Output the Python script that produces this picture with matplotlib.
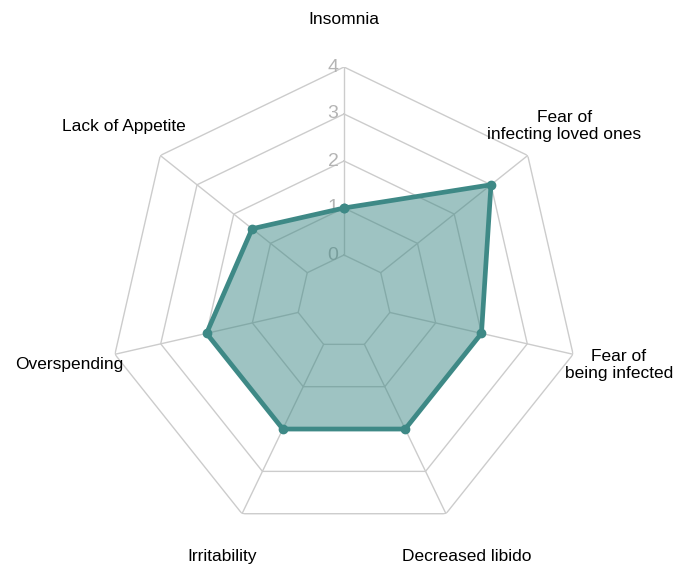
import matplotlib
matplotlib.use('Agg')
from matplotlib import pyplot as plt
import numpy as np

plt.rcParams['font.family'] = ['Liberation Sans', 'DejaVu Sans']

categories = [
    'Insomnia',
    'Fear of\ninfecting loved ones',
    'Fear of\nbeing infected',
    'Decreased libido',
    'Irritability',
    'Overspending',
    'Lack of Appetite',
]
values = [1, 3, 2, 2, 2, 2, 1.5]
ring_levels = [0, 1, 2, 3, 4]

line_color = '#3e8986'
grid_color = '#cccccc'
tick_color = '#b4b4b4'

n = len(categories)
# clockwise from the top
angles = np.pi / 2 - np.arange(n) * 2 * np.pi / n
closed = np.append(angles, angles[0])

fig = plt.figure(figsize=(6.88, 5.64), dpi=100)
ax = fig.add_axes([109 / 688, 27 / 564, 470 / 688, 470 / 564], projection='polar')
ax.set_ylim(-1, 4)
ax.grid(False)
ax.set_xticks([])
ax.set_yticks([])
ax.spines['polar'].set_visible(False)
ax.patch.set_visible(False)

# heptagon rings
for lvl in ring_levels:
    ax.plot(closed, [lvl] * (n + 1), color=grid_color, lw=1, zorder=1)
# spokes, starting at the 0 ring
for a in angles:
    ax.plot([a, a], [ring_levels[0], ring_levels[-1]], color=grid_color, lw=1, zorder=1)

# ring labels along the top spoke
for lvl in ring_levels:
    ax.annotate(str(lvl), xy=(np.pi / 2, lvl), xytext=(-4, 0),
                textcoords='offset points', ha='right', va='center',
                fontsize=14, color=tick_color, zorder=2)

data = np.append(values, values[0])
ax.fill(closed, data, color=line_color, alpha=0.5, lw=0, zorder=3)
ax.plot(closed, data, color=line_color, lw=3.4, zorder=4,
        marker='o', markersize=6, solid_joinstyle='miter')

for a, name in zip(angles, categories):
    ax.text(a, 5.0, name, ha='center', va='center', fontsize=12.5,
            color='black', clip_on=False, linespacing=1.15)

fig.savefig('out.png', dpi=100)
